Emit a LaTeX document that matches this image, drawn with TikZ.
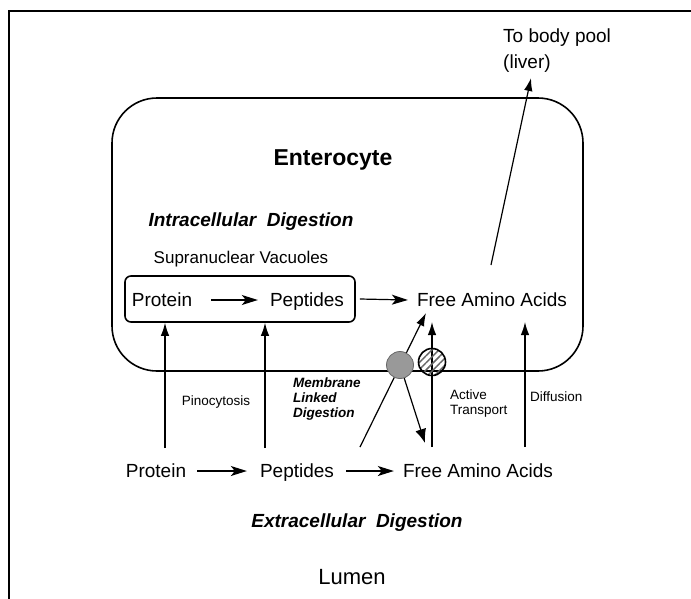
\documentclass[tikz,border=0pt]{standalone}
\usepackage{fontspec}
\setmainfont{Liberation Sans}
\usetikzlibrary{arrows.meta}
\usetikzlibrary{patterns.meta}

\begin{document}
\begin{tikzpicture}[x=1pt,y=-1pt,
    lbl/.style={font=\fontsize{19}{23}\selectfont,inner sep=0pt,text height=13.6pt,text depth=0pt},
    head/.style={font=\fontsize{19}{23}\selectfont\bfseries\itshape,inner sep=0pt,text height=13.6pt,text depth=0pt},
    note/.style={font=\fontsize{13.5}{15}\selectfont,inner sep=0pt,align=left},
    flow/.style={line width=1.2pt,-{Latex[length=13pt,width=8.5pt]}},
    chain/.style={line width=1.2pt,-{Stealth[length=16pt,width=10pt,inset=4pt]}}]
    \useasboundingbox (0,0) rectangle (691,598);
    % Border.
    \draw[line width=2.4pt] (9,620) -- (9,11) -- (720,11);
    % Enterocyte.
    \draw[line width=1.6pt,rounded corners=45pt] (112,98) rectangle (583,371);
    \node[font=\fontsize{23}{27}\selectfont\bfseries,inner sep=0pt,text height=16.5pt,text depth=0pt] (ent) at (333,157) {Enterocyte};
    \node[head] (intra) at (251,220) {Intracellular\ \ Digestion};
    \node[font=\fontsize{17}{20}\selectfont,inner sep=0pt,text height=12.2pt,text depth=0pt] (supra) at (241,257) {Supranuclear Vacuoles};
    \node[draw,line width=1.6pt,rounded corners=6pt,minimum width=230pt,minimum height=46pt] (vac) at (240,299) {};
    \node[lbl] (vprot) at (162,300) {Protein};
    \node[lbl] (vpep) at (307,300) {Peptides};
    \node[lbl] (cfaa) at (492,300) {Free Amino Acids};
    \draw[chain] ([xshift=19pt]vprot.east) -- ([xshift=-12pt]vpep.west);
    \draw[chain] ([xshift=4pt]vac.east) -- ([xshift=-9pt]cfaa.west);
    % Lumen side.
    \node[lbl] (lprot) at (156,471) {Protein};
    \node[lbl] (lpep) at (297,471) {Peptides};
    \node[lbl] (lfaa) at (478,471) {Free Amino Acids};
    \draw[chain] ([xshift=11pt]lprot.east) -- ([xshift=-13pt]lpep.west);
    \draw[chain] ([xshift=12pt]lpep.east) -- ([xshift=-9pt]lfaa.west);
    \node[head] (extra) at (357,521) {Extracellular\ \ Digestion};
    \node[font=\fontsize{22}{26}\selectfont,inner sep=0pt,text height=15.8pt,text depth=0pt] (lumen) at (352,577) {Lumen};
    % Uptake.
    \coordinate (pino) at (165,448);
    \coordinate (mlink) at (265,448);
    \coordinate (dstart) at (360,447);
    \coordinate (dtip) at (426,313);
    \coordinate (dback) at (425,443);
    \coordinate (actv) at (432,447);
    \coordinate (diff) at (525,447);
    \coordinate (pool) at (491,265);
    \coordinate (poolend) at (531,78);
    \draw[flow] (pino) -- (pino |- vac.south);
    \draw[flow] (mlink) -- (mlink |- vac.south);
    \draw[flow] (dstart) -- (dtip);
    \draw[flow] (actv) -- (432,322);
    \draw[flow] (diff) -- (525,322);
    \draw[flow] (pool) -- (poolend);
    \node[circle,draw=black!60,line width=0.8pt,fill=black!40,minimum size=27pt,inner sep=0pt] (mem) at (400,365) {};
    \node[circle,draw,line width=1.6pt,fill=white,pattern={Lines[angle=45,distance=5pt,line width=1.5pt]},pattern color=black!60,minimum size=27pt,inner sep=0pt] (act) at (432,362) {};
    \draw[flow,-{Latex[length=14pt,width=11pt]}] (mem) -- (dback);
    % Labels.
    \node[note] (pinolbl) at (216,402) {Pinocytosis};
    \node[note,font=\fontsize{13.5}{15}\selectfont\bfseries\itshape,anchor=west] (mldlbl) at (293,399) {Membrane\\Linked\\Digestion};
    \node[note,anchor=west] (actlbl) at (450,404) {Active\\Transport};
    \node[note,anchor=west] (difflbl) at (530,397) {Diffusion};
    \node[lbl,align=left,anchor=west,font=\fontsize{19}{26}\selectfont,text height=,text depth=] (poollbl) at (503,51) {To body pool\\(liver)};
  \end{tikzpicture}
\end{document}
